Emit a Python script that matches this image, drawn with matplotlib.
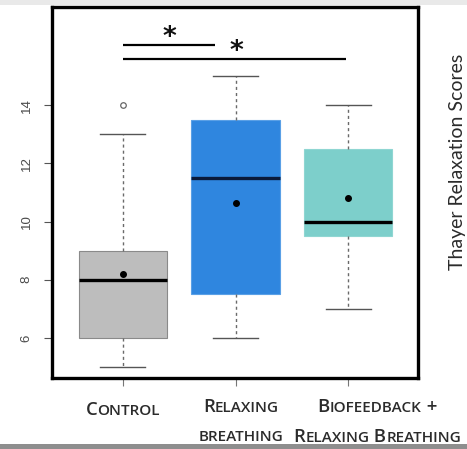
import matplotlib
matplotlib.use("Agg")
import matplotlib.pyplot as plt
from matplotlib.offsetbox import TextArea, HPacker, AnnotationBbox
from matplotlib.patches import Rectangle

# Group summaries (Thayer relaxation scores)
groups = ["Control", "Relaxing breathing", "Biofeedback + Relaxing breathing"]
label_lines = [["Control"], ["Relaxing", "breathing"], ["Biofeedback +", "Relaxing Breathing"]]
label_x = [1.0, 2.05, 3.26]
whisker_low = [5, 6, 7]
q1 = [6, 7.5, 9.5]
medians = [8, 11.5, 10]
q3 = [9, 13.5, 12.5]
whisker_high = [13, 15, 14]
means = [8.2, 10.62, 10.8]
outliers = [[14], [], []]
box_colors = ["#bdbdbd", "#2f86df", "#7dcfcb"]
edge_colors = ["#8a8a8a", "#5aa0e6", "#8fd6d2"]
yticks = [6, 8, 10, 12, 14]

# Significance brackets: (group a, group b, height of line, star height)
brackets = [(1, 1.82, 16.05, 16.3), (1, 2.98, 15.57, 15.82)]
star_x = [1.41, 2.01]

fig = plt.figure(figsize=(4.67, 4.49), dpi=100)
fig.patch.set_facecolor("white")
W, H = 467, 449
ax = fig.add_axes([52 / W, (H - 378) / H, 366 / W, 371 / H])

stats = []
for i in range(len(groups)):
    stats.append(dict(med=medians[i], q1=q1[i], q3=q3[i], whislo=whisker_low[i],
                      whishi=whisker_high[i], mean=means[i], fliers=outliers[i],
                      label=groups[i]))

bp = ax.bxp(stats, positions=[1, 2, 3], widths=0.79, patch_artist=True,
            showmeans=True, showfliers=True,
            whiskerprops=dict(color="#6a6a6a", lw=1.0, linestyle=(0, (2.2, 2.2))),
            capprops=dict(color="#555555", lw=1.0),
            medianprops=dict(color="black", lw=2.4, solid_capstyle="butt"),
            meanprops=dict(marker="o", markerfacecolor="black", markeredgecolor="black",
                           markersize=4),
            flierprops=dict(marker="o", markerfacecolor="none", markeredgecolor="#666666",
                            markersize=4, markeredgewidth=0.9))
for w in bp["caps"]:
    x0, x1 = w.get_xdata()
    c = (x0 + x1) / 2
    w.set_xdata([c - 0.2, c + 0.2])
for patch, fc, ec in zip(bp["boxes"], box_colors, edge_colors):
    patch.set_facecolor(fc)
    patch.set_edgecolor(ec)
    patch.set_linewidth(0.8)
bp["medians"][1].set_color("#0a1a3a")

ax.set_xlim(0.369, 3.622)
ax.set_ylim(4.625, 17.37)

for s in ax.spines.values():
    s.set_linewidth(2.4)
    s.set_color("black")

ax.set_yticks(yticks)
ax.set_yticklabels([str(t) for t in yticks], rotation=90, va="center",
                   fontsize=9.5, color="#4a4a4a", family="Liberation Sans")
ax.tick_params(axis="y", length=6, width=0.8, color="#555555", pad=8)
ax.set_xticks([1, 2, 3])
ax.set_xticklabels([])
ax.tick_params(axis="x", length=6, width=0.8, color="#777777")

# Significance lines with stars
for (a, b, yl, ys), sx in zip(brackets, star_x):
    ax.plot([a, b], [yl, yl], color="black", lw=1.6, solid_capstyle="butt", clip_on=False)
    ax.text(sx, ys, "*", ha="center", va="center", fontsize=19, fontweight="bold",
            color="#111111", family="DejaVu Sans")


def small_caps(text, big=13.3, small=11.0, color="#2b2b2b", family="Open Sans"):
    # Capitals stay full size, lowercase letters become reduced capitals
    parts = []
    run, run_big = "", None
    for ch in text:
        is_big = not ch.islower()
        if run_big is None or is_big == run_big:
            run += ch
        else:
            parts.append((run, run_big))
            run = ch
        run_big = is_big
    if run:
        parts.append((run, run_big))
    areas = [TextArea(s.upper(), textprops=dict(fontsize=big if b else small, color=color,
                                                family=family, fontweight="semibold"))
             for s, b in parts]
    return HPacker(children=areas, align="baseline", pad=0, sep=0)


line_y = [[(H - 410) / H], [(H - 407) / H, (H - 437) / H], [(H - 407) / H, (H - 437) / H]]
for gi, lines in enumerate(label_lines):
    for li, txt in enumerate(lines):
        box = small_caps(txt)
        ab = AnnotationBbox(box, (label_x[gi], line_y[gi][li]),
                            xycoords=("data", "figure fraction"),
                            frameon=False, box_alignment=(0.5, 0.5), annotation_clip=False)
        ax.add_artist(ab)

fig.text(466 / W, 1 - 162 / H, "Thayer Relaxation Scores", rotation=90, ha="right",
         va="center", fontsize=14, color="#2b2b2b", family="Lato")

# Screen bands at top and bottom
fig.add_artist(Rectangle((0, 1 - 5 / H), 1, 5 / H, transform=fig.transFigure,
                         facecolor="#e9e9e9", edgecolor="none", zorder=-1))
fig.add_artist(Rectangle((0, 0), 1, 5 / H, transform=fig.transFigure,
                         facecolor="#8e8e8e", edgecolor="none", zorder=5))

fig.savefig("out.png", dpi=100)
